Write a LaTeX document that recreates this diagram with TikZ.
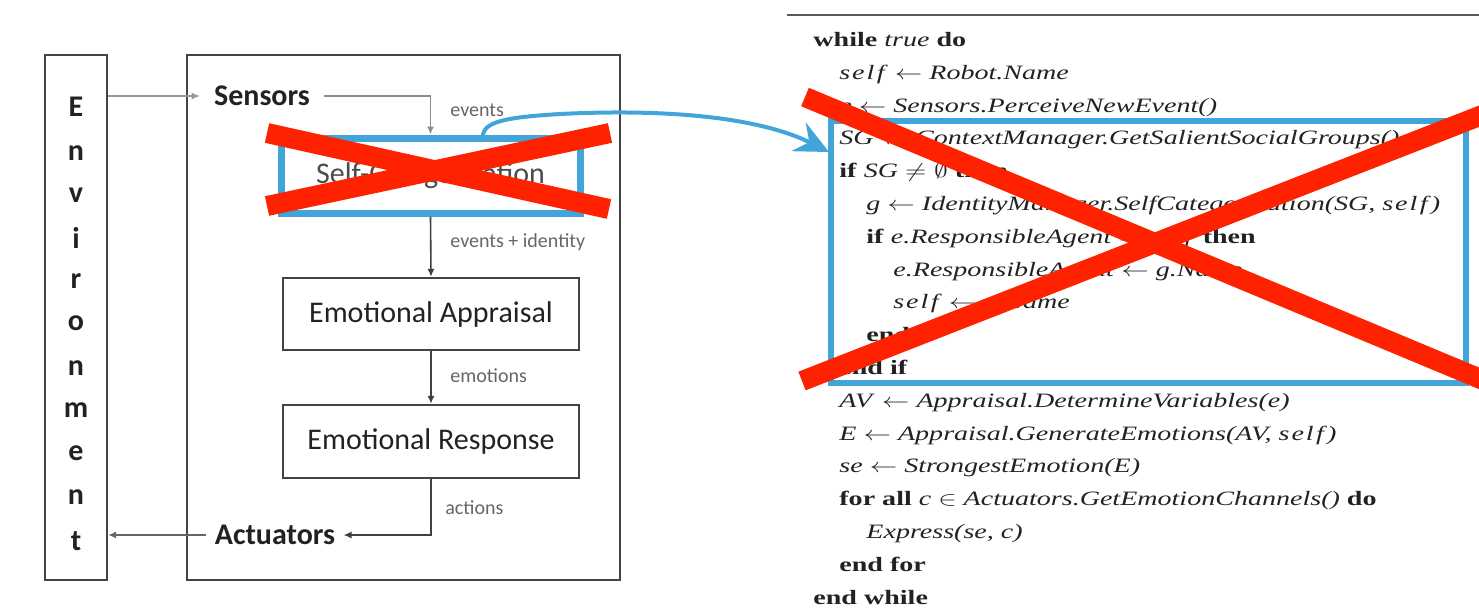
\documentclass[tikz,border=0pt]{standalone}
\usepackage{fontspec}
\usepackage{graphicx}
\setmainfont{Liberation Serif}
\newfontfamily\carlito{Carlito}
\usetikzlibrary{arrows.meta}

\definecolor{xred}{HTML}{FF2200}
\definecolor{xblue}{HTML}{42A5DA}
\definecolor{ink}{HTML}{222222}
\definecolor{frame}{HTML}{444444}

% horizontally widened line of pseudo-code
\newcommand\codetext[1]{\scalebox{1.375}[1]{#1}}
% the variable "self", set with loose letter spacing
\newcommand\slf{\textit{s\kern0.7pt e\kern0.7pt l\kern0.9pt f}}

\tikzset{
  block/.style={draw=frame, line width=1.2pt, fill=white, inner sep=0pt,
    font=\carlito\fontsize{15}{18}\selectfont, text=ink},
  flowlabel/.style={anchor=west, inner sep=0pt, text=black!60,
    font=\carlito\fontsize{10}{12}\selectfont},
  envletter/.style={inner sep=0pt, text=ink,
    font=\carlito\bfseries\fontsize{15}{18}\selectfont},
  io/.style={inner sep=0pt, text=ink,
    font=\carlito\bfseries\fontsize{15}{18}\selectfont},
  flow/.style={draw=black!75, line width=0.8pt,
    -{Latex[length=4pt,width=3.6pt]}},
  light/.style={draw=black!40, line width=0.7pt,
    -{Latex[length=4pt,width=3.6pt]}},
  code/.style={anchor=base west, inner sep=0pt, text=ink,
    font=\fontsize{10.2}{12}\selectfont},
  cross/.style={draw=xred, line width=10pt},
  hilite/.style={draw=xblue, line width=3.5pt},
}

\begin{document}
\begin{tikzpicture}[x=0.5pt,y=-0.5pt]
\useasboundingbox (0,0) rectangle (1479,612);

% ---------------- architecture diagram ----------------
\node[block, minimum width=31pt, minimum height=262.5pt] (env) at (76,317.5) {};
\node[block, minimum width=216.5pt, minimum height=262.5pt] (agent) at (403.5,317.5) {};

\foreach \ch/\yy [count=\i] in {E/107,n/153,v/195,i/238,r/281,o/323,n/368,m/410,e/453,n/497,t/541}
  \node[envletter] (letter\i) at (76,\yy) {\ch};

\node[io, inner xsep=7pt] (sensors) at (262,96) {Sensors};
\node[io, inner xsep=4pt] (actuators) at (275,535) {Actuators};

\node[block, hilite, minimum width=149.5pt, minimum height=37.5pt, text=black!70] (selfcat) at (430.5,175.5) {Self-Categorization};
\node[block, minimum width=148pt, minimum height=36pt] (appraisal) at (431,314) {Emotional Appraisal};
\node[block, minimum width=148pt, minimum height=36.5pt] (response) at (431,441.5) {Emotional Response};

\draw[light] (env.east |- sensors) -- (sensors.west);
\draw[flow, draw=black!45] (sensors.east) -| (selfcat.north);
\draw[flow] (selfcat.south) -- (appraisal.north);
\draw[flow] (appraisal.south) -- (response.north);
\draw[flow] (response.south) |- (actuators.east);
\draw[light, draw=black!60] (actuators.west) -- (env.east |- actuators);

\node[flowlabel] (lab1) at (450,110) {events};
\node[flowlabel] (lab2) at (450,242) {events + identity};
\node[flowlabel] (lab3) at (450,376) {emotions};
\node[flowlabel] (lab4) at (445,508) {actions};

% ---------------- algorithm listing ----------------
\coordinate (ruleL) at (787,15);
\coordinate (ruleR) at (1479,15);
\draw[black!65, line width=1.4pt] (ruleL) -- (ruleR);

\node[code] (c0)  at (813,46.5)  {\codetext{\textbf{while} \textit{true} \textbf{do}}};
\node[code] (c1)  at (839,79.3)  {\codetext{\slf{} $\leftarrow$ \textit{Robot.Name}}};
\node[code] (c2)  at (839,112.1) {\codetext{\textit{e} $\leftarrow$ \textit{Sensors.PerceiveNewEvent()}}};
\node[code] (c3)  at (839,144.9) {\codetext{\textit{SG} $\leftarrow$ \textit{ContextManager.GetSalientSocialGroups()}}};
\node[code] (c4)  at (839,177.7) {\codetext{\textbf{if} \textit{SG} $\neq\emptyset$ \textbf{then}}};
\node[code] (c5)  at (866,210.5) {\codetext{\textit{g} $\leftarrow$ \textit{IdentityManager.SelfCategorization(SG,} \slf\textit{)}}};
\node[code] (c6)  at (866,243.3) {\codetext{\textbf{if} \textit{e.ResponsibleAgent} $=$ \slf{} \textbf{then}}};
\node[code] (c7)  at (893,276.1) {\codetext{\textit{e.ResponsibleAgent} $\leftarrow$ \textit{g.Name}}};
\node[code] (c8)  at (893,308.9) {\codetext{\slf{} $\leftarrow$ \textit{g.Name}}};
\node[code] (c9)  at (866,341.7) {\codetext{\textbf{end if}}};
\node[code] (c10) at (839,374.5) {\codetext{\textbf{end if}}};
\node[code] (c11) at (839,407.3) {\codetext{\textit{AV} $\leftarrow$ \textit{Appraisal.DetermineVariables(e)}}};
\node[code] (c12) at (839,440.1) {\codetext{\textit{E} $\leftarrow$ \textit{Appraisal.GenerateEmotions(AV,} \slf\textit{)}}};
\node[code] (c13) at (839,472.9) {\codetext{\textit{se} $\leftarrow$ \textit{StrongestEmotion(E)}}};
\node[code] (c14) at (839,505.7) {\codetext{\textbf{for all} \textit{c} $\in$ \textit{Actuators.GetEmotionChannels()} \textbf{do}}};
\node[code] (c15) at (866,538.5) {\codetext{\textit{Express(se, c)}}};
\node[code] (c16) at (839,571.3) {\codetext{\textbf{end for}}};
\node[code] (c17) at (813,604.1) {\codetext{\textbf{end while}}};

% highlighted block of the listing
\node[hilite, draw=xblue, line width=3pt, inner sep=0pt,
      minimum width=317.5pt, minimum height=131pt] (codebox) at (1148.5,252) {};

% hand-drawn link from the diagram block to the listing
\coordinate (curlstart) at (483,134);
\coordinate (curltip) at (829,152);
\draw[xblue, line width=2pt, line cap=round,
      -{Stealth[length=17pt,width=16pt,inset=6pt]}]
  (curlstart) .. controls (486,121) and (510,117) .. (560,114)
  .. controls (680,108) and (765,120) .. (curltip);

% crossing-out marks
\draw[cross] (267,133) -- (609,209);
\draw[cross] (267,206) -- (610,133);
\draw[cross] (805,97) -- (1495,385);
\draw[cross] (802,381) -- (1495,110);
\end{tikzpicture}
\end{document}
